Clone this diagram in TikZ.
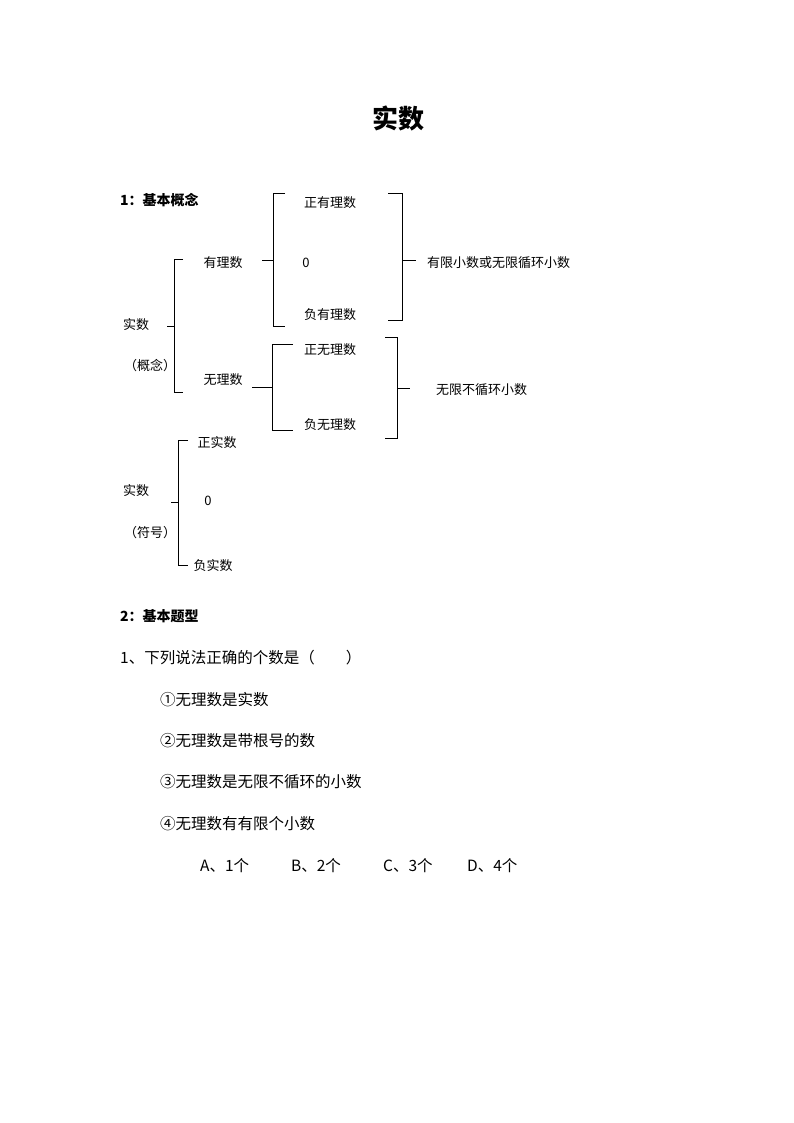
\documentclass[tikz,border=0pt]{standalone}
\usepackage{fontspec}
\setmainfont{Noto Sans CJK SC}
\begin{document}
\begin{tikzpicture}[x=1pt,y=-1pt,
  t/.style={inner sep=0pt,font=\fontsize{13}{15}\selectfont},
  q/.style={inner sep=0pt,anchor=west,font=\fontsize{15.5}{18}\selectfont},
  b/.style={inner sep=0pt,anchor=west,font=\fontsize{14}{16}\selectfont\bfseries},
  br/.style={draw,line width=0.8pt}]
\useasboundingbox (0,0) rectangle (794,1123);
\node[inner sep=0pt,font=\fontsize{26}{30}\selectfont\bfseries] (title) at (398,118) {实数};
\node[b] (s1) at (120,200) {1：基本概念};
% left brace A
\draw[br] (183,259) -- (174,259) -- (174,392) -- (183,392);
\draw[br] (167,326) -- (174,326);
% brace B
\draw[br] (285,193) -- (273,193) -- (273,326) -- (285,326);
\draw[br] (262,260) -- (273,260);
% brace C
\draw[br] (388,193) -- (402,193) -- (402,320) -- (388,320);
\draw[br] (402,260) -- (416,260);
% brace D
\draw[br] (293,344) -- (272,344) -- (272,430) -- (293,430);
\draw[br] (252,387) -- (272,387);
% brace E
\draw[br] (385,337) -- (397,337) -- (397,438) -- (385,438);
\draw[br] (397,388) -- (410,388);
% brace F
\draw[br] (188,440) -- (178,440) -- (178,565) -- (188,565);
\draw[br] (171,502) -- (178,502);
\node[t] (yl) at (223,263) {有理数};
\node[t] (zy) at (330,203) {正有理数};
\node[t] (z0) at (306,263) {0};
\node[t] (fy) at (330,315) {负有理数};
\node[t,anchor=west] (yx) at (427,263) {有限小数或无限循环小数};
\node[t] (ss1) at (136,325) {实数};
\node[t] (gn) at (150,366) {（概念）};
\node[t] (wl) at (223,380) {无理数};
\node[t] (zw) at (330,350) {正无理数};
\node[t] (fw) at (330,425) {负无理数};
\node[t,anchor=west] (wx) at (436,390) {无限不循环小数};
\node[t] (zs) at (217,443) {正实数};
\node[t] (s0) at (208,501) {0};
\node[t] (ss2) at (136,491) {实数};
\node[t] (fh) at (150,533) {（符号）};
\node[t] (fs) at (213,566) {负实数};
\node[b] (s2) at (120,616) {2：基本题型};
\node[q] (q1) at (120,658) {1、下列说法正确的个数是（\hspace{2em}）};
\node[q] (i1) at (160,700) {①无理数是实数};
\node[q] (i2) at (160,741) {②无理数是带根号的数};
\node[q] (i3) at (160,782) {③无理数是无限不循环的小数};
\node[q] (i4) at (160,824) {④无理数有有限个小数};
\node[q] (oa) at (200,866) {A、1个};
\node[q] (ob) at (291,866) {B、2个};
\node[q] (oc) at (383,866) {C、3个};
\node[q] (od) at (467,866) {D、4个};
\end{tikzpicture}
\end{document}
